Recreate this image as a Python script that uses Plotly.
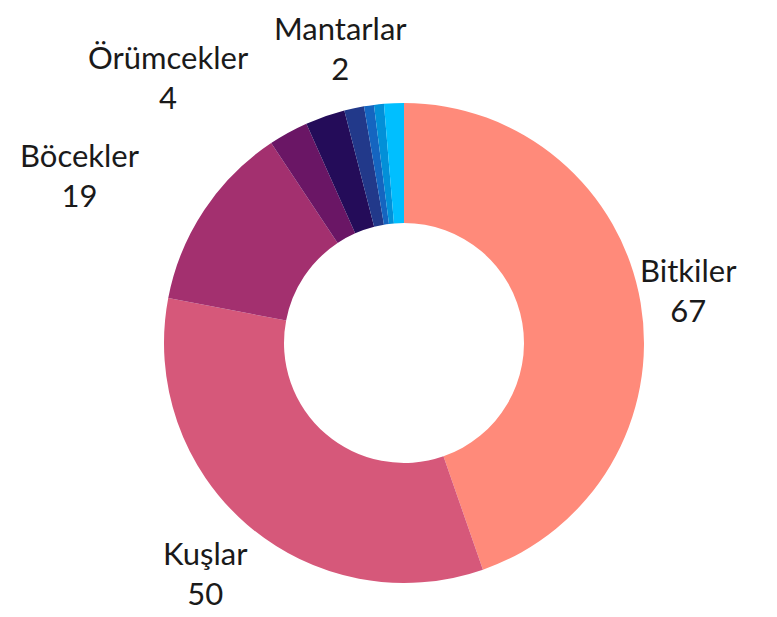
import plotly.graph_objects as go

labels = ["Bitkiler", "Kuşlar", "Böcekler", "Örümcekler", "Diğer A", "Mantarlar", "Diğer B", "Diğer C", "Diğer D"]
values = [67, 50, 19, 4, 4, 2, 1, 1, 2]
show_label = [True, True, True, True, False, True, False, False, False]
colors = ["#FF8A7A", "#D6587A", "#A3306F", "#6A1665", "#240C59", "#22398A", "#1565C0", "#0290D8", "#00BFFF"]

# label block centres in screen pixels (x, y from top) for the shown labels
label_px = {
    "Bitkiler": (688, 290),
    "Kuşlar": (205, 573),
    "Böcekler": (80, 175),
    "Örümcekler": (168, 77),
    "Mantarlar": (340, 48),
}

OFF = 8  # default page body margin in the browser
W, H = 777, 617
ML, MR, MT, MB = 164 - OFF, 133 + OFF, 103 - OFF, 34 + OFF
pw, ph = W - ML - MR, H - MT - MB

fig = go.Figure(go.Pie(
    labels=labels,
    values=values,
    textinfo="none",
    hole=0.5,
    sort=False,
    direction="clockwise",
    rotation=0,
    marker=dict(colors=colors, line=dict(width=0)),
    showlegend=False,
    hoverinfo="label+value",
))

for l, v, s in zip(labels, values, show_label):
    if not s:
        continue
    px, py = label_px[l]
    px, py = px - OFF, py - OFF
    fig.add_annotation(
        x=(px - ML) / pw, y=1 - (py - MT) / ph,
        xref="paper", yref="paper",
        text=f"{l}<br>{v}",
        showarrow=False,
        xanchor="center", yanchor="middle",
        align="center",
        borderpad=0,
        font=dict(family="Lato", size=31, color="#1a1a1a"),
    )

fig.update_layout(
    width=W, height=H,
    margin=dict(l=ML, r=MR, t=MT, b=MB),
    paper_bgcolor="white",
    plot_bgcolor="white",
)

fig.write_html("out.html")
